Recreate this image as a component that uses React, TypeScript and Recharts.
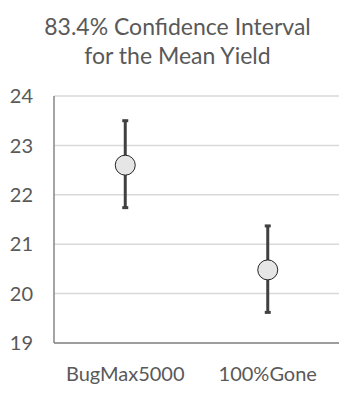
import { ComposedChart, Line, ErrorBar, XAxis, YAxis, CartesianGrid } from 'recharts';

const FONT = 'Lato, "Open Sans", sans-serif';
const TEXT = '#595959';
const GRID = '#d9d9d9';
const AXIS = '#868686';

const categories = ['BugMax5000', '100%Gone'];
const means = [22.6, 20.48];
const lower = [21.74, 19.62];
const upper = [23.5, 21.37];
const yTicks = [19, 20, 21, 22, 23, 24];

const data = categories.map((name, i) => ({
  name,
  mean: means[i],
  err: [means[i] - lower[i], upper[i] - means[i]],
}));

function MeanDot(props: { cx?: number; cy?: number }) {
  const { cx, cy } = props;
  if (cx == null || cy == null) return null;
  return <circle cx={cx} cy={cy} r={10} fill="#e7e6e6" stroke="#262626" strokeWidth={1} />;
}

export default function App() {
  return (
    <div style={{ position: 'absolute', left: 0, top: 0, width: 355, height: 396, background: '#fff', fontFamily: FONT }}>
      <div
        style={{
          position: 'absolute', left: 0, top: 12, width: 355, textAlign: 'center',
          fontSize: 23, lineHeight: '29px', color: TEXT,
        }}
      >
        83.4% Confidence Interval<br />for the Mean Yield
      </div>
      <ComposedChart
        width={355}
        height={396}
        data={data}
        margin={{ top: 96, right: 16, bottom: 0, left: 0 }}
      >
        <CartesianGrid vertical={false} stroke={GRID} strokeWidth={1.5} />
        <XAxis
          dataKey="name"
          scale="band"
          height={53}
          axisLine={{ stroke: AXIS, strokeWidth: 1.5 }}
          tickLine={false}
          tickSize={0}
          tickMargin={24}
          tick={{ fontSize: 20, fill: TEXT, fontFamily: FONT }}
        />
        <YAxis
          width={54}
          domain={[19, 24]}
          ticks={yTicks}
          axisLine={{ stroke: AXIS, strokeWidth: 1.5 }}
          tickLine={false}
          tickSize={0}
          tickMargin={21}
          tick={{ fontSize: 20, fill: TEXT, fontFamily: FONT }}
        />
        <Line
          dataKey="mean"
          stroke="none"
          isAnimationActive={false}
          dot={<MeanDot />}
          activeDot={false}
        >
          <ErrorBar dataKey="err" direction="y" width={3} stroke="#404040" strokeWidth={3} isAnimationActive={false} />
        </Line>
      </ComposedChart>
    </div>
  );
}
